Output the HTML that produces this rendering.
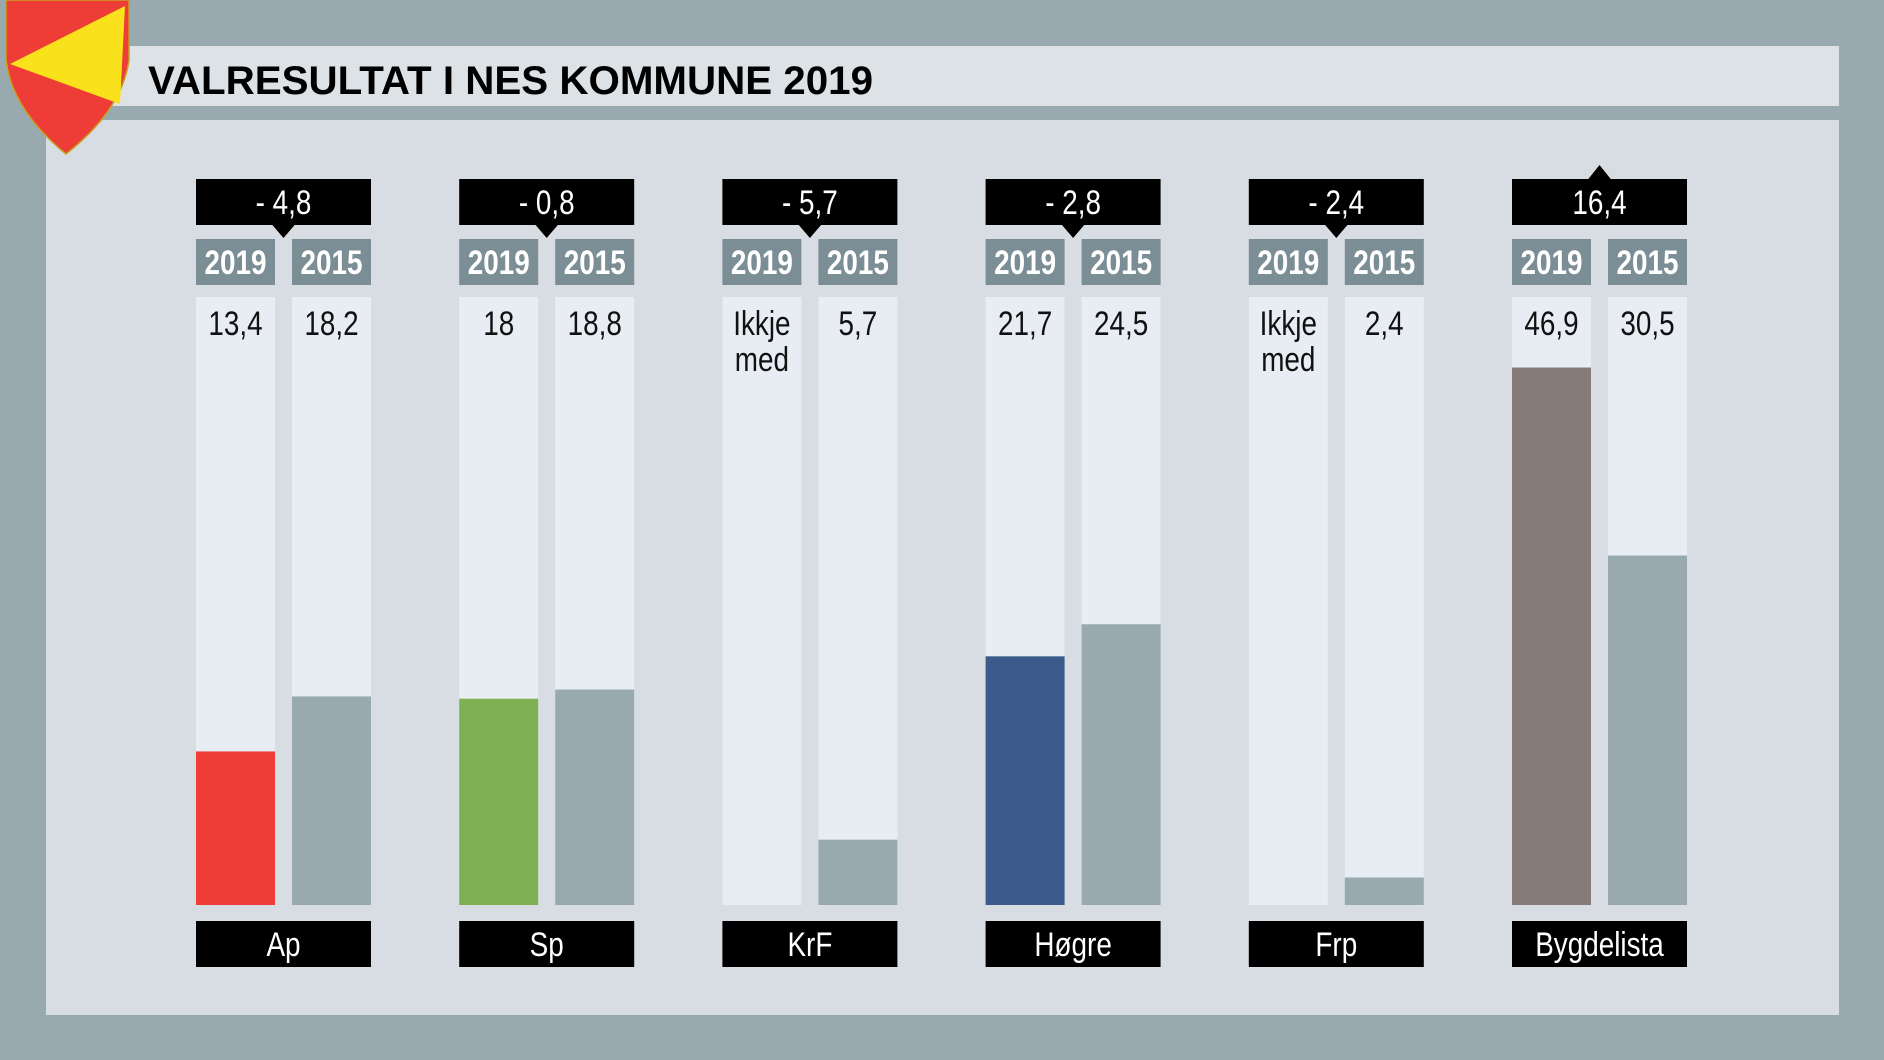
<!DOCTYPE html>
<html><head><meta charset="utf-8">
<style>
html,body{margin:0;padding:0;background:#98a9b0;}
svg{display:block;}
text{font-family:"Liberation Sans Narrow","Liberation Sans",sans-serif;}
</style></head>
<body>
<svg id="chart" width="1884" height="1060" viewBox="0 0 1884 1060">
  <rect x="0" y="0" width="1884" height="1060" fill="#98a9b0"/>
  <rect x="46" y="46" width="1793" height="60" fill="#dde2e6"/>
  <rect x="46" y="120" width="1793" height="895" fill="#d8dde3"/>
  <g>
    <path d="M6,0 L129,0 L129,60 Q122,110 66,154 Q12,110 6,60 Z" fill="#ee3c36" stroke="#c9a020" stroke-width="1.5"/>
    <path d="M10,64 L125,6 L120,104 Z" fill="#f9e21b"/>
  </g>
  <text x="148" y="94" font-size="40" font-weight="900" fill="#000" textLength="725" lengthAdjust="spacingAndGlyphs">VALRESULTAT I NES KOMMUNE 2019</text>
  <g id="groups"></g>
</svg>
<script>
const parties = ["Ap","Sp","KrF","Høgre","Frp","Bygdelista"];
const values2019 = [13.4, 18, null, 21.7, null, 46.9];
const values2015 = [18.2, 18.8, 5.7, 24.5, 2.4, 30.5];
const labels2019 = ["13,4","18","Ikkje med","21,7","Ikkje med","46,9"];
const labels2015 = ["18,2","18,8","5,7","24,5","2,4","30,5"];
const deltaLabels = ["- 4,8","- 0,8","- 5,7","- 2,8","- 2,4","16,4"];
const colors2019 = ["#ee3c36","#7cb053","#3d5b8a","#3d5b8a","#857b78","#857b78"];

const NS = "http://www.w3.org/2000/svg";
const g = document.getElementById("groups");
const groupX0 = 196, groupPitch = 263.2, barW = 79, gap = 17;
const trackTop = 297, trackBottom = 905;
const pxPerUnit = 11.46;
function yScale(v){ return trackBottom - v * pxPerUnit; }
function mk(tag, attrs){ const e = document.createElementNS(NS, tag); for (const k in attrs) e.setAttribute(k, attrs[k]); g.appendChild(e); return e; }
function txt(x, y, s, size, fill){
  const t = mk("text", {x:0, y:0, "font-size":size, fill:fill, "text-anchor":"middle", transform:`translate(${x},${y}) scale(0.82,1)`});
  t.textContent = s; return t;
}

parties.forEach((p, i) => {
  const gx = groupX0 + i * groupPitch;
  const bx1 = gx, bx2 = gx + barW + gap, gw = barW * 2 + gap;
  const cx = gx + gw / 2;
  const delta = (values2019[i] || 0) - values2015[i];
  const db = mk("rect", {x:gx, y:179, width:gw, height:46, fill:"#000"});
  
  
  const tri = mk("path", {d: delta < 0 ? `M${cx-12},224 L${cx+12},224 L${cx},238 Z` : `M${cx-12},180 L${cx+12},180 L${cx},165 Z`, fill:"#000"});
  
  
  const dt = txt(cx, 214, deltaLabels[i], 34, "#fff");
  
  
  [[bx1,"2019"],[bx2,"2015"]].forEach(([x, yr]) => {
    const yb = mk("rect", {x:x, y:239, width:barW, height:46, fill:"#7b8d95"});
    
    
    const yt = txt(x + barW/2, 274, yr, 34, "#fff");
    yt.setAttribute('font-weight', 'bold');
    
    
  });
  [bx1, bx2].forEach(x => {
    const tr = mk("rect", {x:x, y:trackTop, width:barW, height:trackBottom-trackTop, fill:"#e8edf3"});
    
    
  });
  if (values2019[i] != null) {
    const b = mk("rect", {x:bx1, y:yScale(values2019[i]), width:barW, height:trackBottom - yScale(values2019[i]), fill:colors2019[i]});
    
    
  }
  const b2 = mk("rect", {x:bx2, y:yScale(values2015[i]), width:barW, height:trackBottom - yScale(values2015[i]), fill:"#98a9b0"});
  
  
  const l1 = labels2019[i].split(" ");
  if (l1.length === 2) {
    const a = txt(bx1 + barW/2, 335, l1[0], 34, "#111");
    
    
    const b = txt(bx1 + barW/2, 371, l1[1], 34, "#111");
    
    
  } else {
    const a = txt(bx1 + barW/2, 335, labels2019[i], 34, "#111");
    
    
  }
  const v2 = txt(bx2 + barW/2, 335, labels2015[i], 34, "#111");
  
  
  const pb = mk("rect", {x:gx, y:921, width:gw, height:46, fill:"#000"});
  
  
  const pt = txt(cx, 956, p, 34, "#fff");
  
  
});
</script>
</body></html>
